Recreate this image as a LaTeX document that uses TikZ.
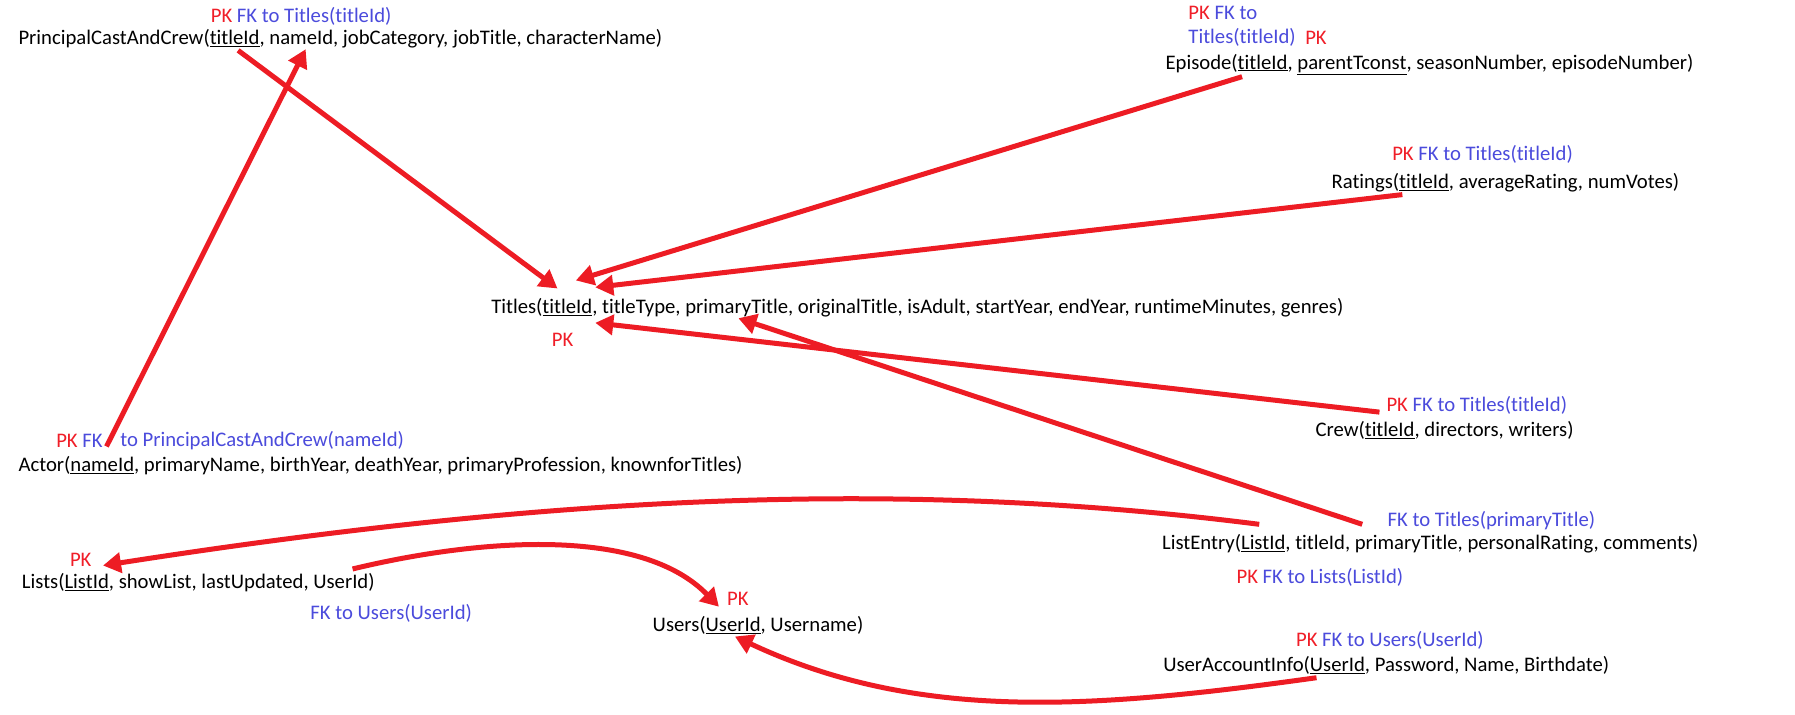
\documentclass[tikz,border=0pt]{standalone}
\usepackage{fontspec}
\setmainfont{Carlito}[Ligatures=NoCommon]
\usetikzlibrary{arrows.meta}
\definecolor{pkred}{RGB}{240,30,40}
\definecolor{fkblue}{RGB}{75,75,220}
\definecolor{arrred}{RGB}{237,28,36}
\tikzset{
 lbl/.style={anchor=west,inner sep=0pt,yshift=-2.3pt,font=\fontsize{20.7pt}{24pt}\selectfont},
 rel/.style={draw=arrred,line width=5pt,-{Triangle[length=18pt,width=20pt]}},
}
\newcommand{\pkm}{\textcolor{pkred}{PK}}
\newcommand{\fkm}[1]{\textcolor{fkblue}{#1}}
\begin{document}
\begin{tikzpicture}[x=1.1448pt,y=-1.1448pt]
\useasboundingbox[fill=white] (0,0) rectangle (1568,624);
% tables
\node[lbl] (pccnote) at (184,12) {\pkm\ \fkm{FK to Titles(titleId)}};
\node[lbl] (pcc) at (16,32) {PrincipalCastAndCrew(\underline{titleId}, nameId, jobCategory, jobTitle, characterName)};
\node[lbl] (epnote1) at (1038,9) {\pkm\ \fkm{FK to}};
\node[lbl] (epnote2) at (1038,31) {\fkm{Titles(titleId)}};
\node[lbl] (eppk) at (1140,31) {\pkm};
\node[lbl] (episode) at (1018,54) {Episode(\underline{titleId}, \underline{parentTconst}, seasonNumber, episodeNumber)};
\node[lbl] (ratnote) at (1216,133) {\pkm\ \fkm{FK to Titles(titleId)}};
\node[lbl] (ratings) at (1163,158) {Ratings(\underline{titleId}, averageRating, numVotes)};
\node[lbl] (titles) at (429,267) {Titles(\underline{titleId}, titleType, primaryTitle, originalTitle, isAdult, startYear, endYear, runtimeMinutes, genres)};
\node[lbl] (titlespk) at (482,295) {\pkm};
\node[lbl] (crewnote) at (1211,352) {\pkm\ \fkm{FK to Titles(titleId)}};
\node[lbl] (crew) at (1149,374) {Crew(\underline{titleId}, directors, writers)};
\node[lbl] (actnote1) at (49,383) {\pkm\ \fkm{FK}};
\node[lbl] (actnote2) at (105,383) {\fkm{to PrincipalCastAndCrew(nameId)}};
\node[lbl] (actor) at (16,405) {Actor(\underline{nameId}, primaryName, birthYear, deathYear, primaryProfession, knownforTitles)};
\node[lbl] (lenote1) at (1212,453) {\fkm{FK to Titles(primaryTitle)}};
\node[lbl] (listentry) at (1015,473) {ListEntry(\underline{ListId}, titleId, primaryTitle, personalRating, comments)};
\node[lbl] (lenote2) at (1080,502) {\pkm\ \fkm{FK to Lists(ListId)}};
\node[lbl] (listspk) at (61,487) {\pkm};
\node[lbl] (lists) at (19,507) {Lists(\underline{ListId}, showList, lastUpdated, UserId)};
\node[lbl] (listsnote) at (271,534) {\fkm{FK to Users(UserId)}};
\node[lbl] (userspk) at (635,521) {\pkm};
\node[lbl] (users) at (570,544) {Users(\underline{UserId}, Username)};
\node[lbl] (uainote) at (1132,557) {\pkm\ \fkm{FK to Users(UserId)}};
\node[lbl] (uai) at (1016,579) {UserAccountInfo(\underline{UserId}, Password, Name, Birthdate)};
% connector ends
\coordinate (pccS) at (208,44);
\coordinate (pccN) at (267,43);
\coordinate (titA) at (487,252);
\coordinate (actS) at (93,390);
\coordinate (epS) at (1085,67);
\coordinate (titC) at (503,245);
\coordinate (ratS) at (1225,170);
\coordinate (titD) at (520,251);
\coordinate (crewS) at (1205,360);
\coordinate (titE) at (520,282);
\coordinate (leS1) at (1190,458);
\coordinate (titF) at (645,278);
\coordinate (leS2) at (1100,458);
\coordinate (listsT) at (90,494);
\coordinate (listsS) at (308,497);
\coordinate (usersT) at (628,530);
\coordinate (uaiS) at (1150,592);
\coordinate (usersB) at (642,556);
% connectors
\draw[rel] (pccS) -- (titA);
\draw[rel] (actS) -- (pccN);
\draw[rel] (epS) -- (titC);
\draw[rel] (ratS) -- (titD);
\draw[rel] (crewS) -- (titE);
\draw[rel] (leS1) -- (titF);
\draw[rel] (leS2) .. controls (800,420) and (500,430) .. (listsT);
\draw[rel] (listsS) .. controls (420,470) and (560,460) .. (usersT);
\draw[rel] (uaiS) .. controls (950,620) and (800,630) .. (usersB);
\end{tikzpicture}
\end{document}
